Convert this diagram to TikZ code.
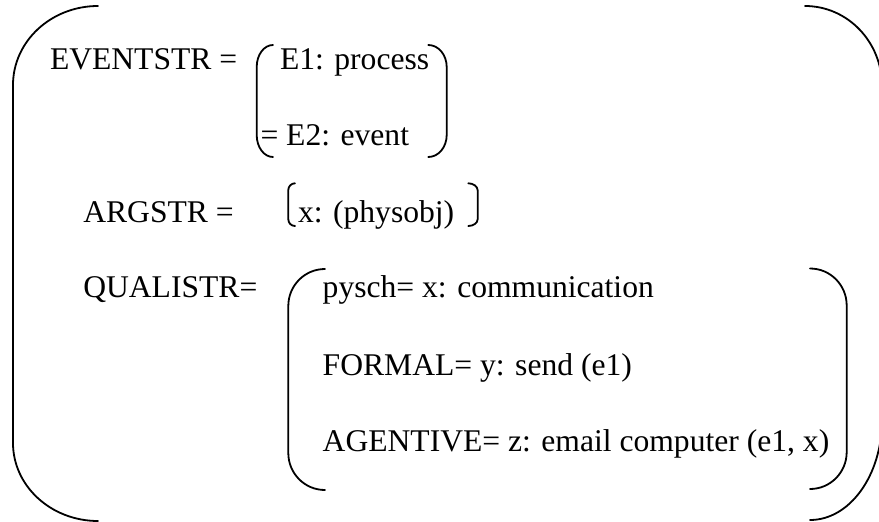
\documentclass[tikz,border=0pt]{standalone}
\usepackage{fontspec}
\setmainfont{Liberation Serif}
\begin{document}
\begin{tikzpicture}[x=1pt,y=-1pt,
  lbl/.style={anchor=base west,inner sep=0pt,outer sep=0pt,
    font=\fontsize{31.6}{38}\selectfont},
  brk/.style={line width=1.8pt,line cap=round,line join=round}]
\useasboundingbox (0,0) rectangle (879,522);
\fill[white] (0,0) rectangle (879,522);
\clip (0,0) rectangle (879,522);

% outer bracket pair
\draw[brk] (98,6) .. controls (51,6) and (13,41.4) .. (13,85)
  -- (13,443) .. controls (13,486) and (51,521) .. (98,521);
\draw[brk] (805,6) .. controls (847.5,6) and (882,41.8) .. (882,86)
  -- (882,420) .. controls (882,475.2) and (849.8,520) .. (810,520);

% EVENTSTR value brackets
\draw[brk] (273,45) .. controls (264,45) and (256.7,54.8) .. (256.7,67)
  -- (256.7,135) .. controls (256.7,147.2) and (264,157) .. (273,157);
\draw[brk] (428.3,45) .. controls (438.5,45) and (446.7,54.8) .. (446.7,67)
  -- (446.7,135) .. controls (446.7,147.2) and (438.5,157) .. (428.3,157);

% ARGSTR value brackets
\draw[brk] (295,183.3) .. controls (291.3,183.3) and (288.3,186.3) .. (288.3,190)
  -- (288.3,219.3) .. controls (288.3,223) and (291.3,226) .. (295,226);
\draw[brk] (468.3,183.3) .. controls (473.5,183.3) and (477.7,186.5) .. (477.7,190.5)
  -- (477.7,219) .. controls (477.7,223) and (473.5,226) .. (468.3,226);

% QUALISTR value brackets
\draw[brk] (325,269) .. controls (304.6,269) and (288.3,285.6) .. (288.3,306)
  -- (288.3,453) .. controls (288.3,473.4) and (304.6,490) .. (325,490);
\draw[brk] (810,268.5) .. controls (830.4,268.5) and (846.7,285.1) .. (846.7,305.5)
  -- (846.7,452) .. controls (846.7,472.4) and (830.4,489) .. (810,489);

% labels
\node[lbl] (ev)  at (50,69.5)    {EVENTSTR =};
\node[lbl] (e1)  at (280,69.5)   {E1: process};
\node[lbl] (e2)  at (260.5,145)  {= E2: event};
\node[lbl] (arg) at (83.3,222)   {ARGSTR =};
\node[lbl] (x)   at (298,222.5)  {x: (physobj)};
\node[lbl] (qu)  at (83.3,297)   {QUALISTR=};
\node[lbl] (ps)  at (322.7,297.3){pysch= x: communication};
\node[lbl] (fo)  at (322.7,375)  {FORMAL= y: send (e1)};
\node[lbl] (ag)  at (322.7,451.7){AGENTIVE= z: email computer (e1, x)};
\end{tikzpicture}
\end{document}
